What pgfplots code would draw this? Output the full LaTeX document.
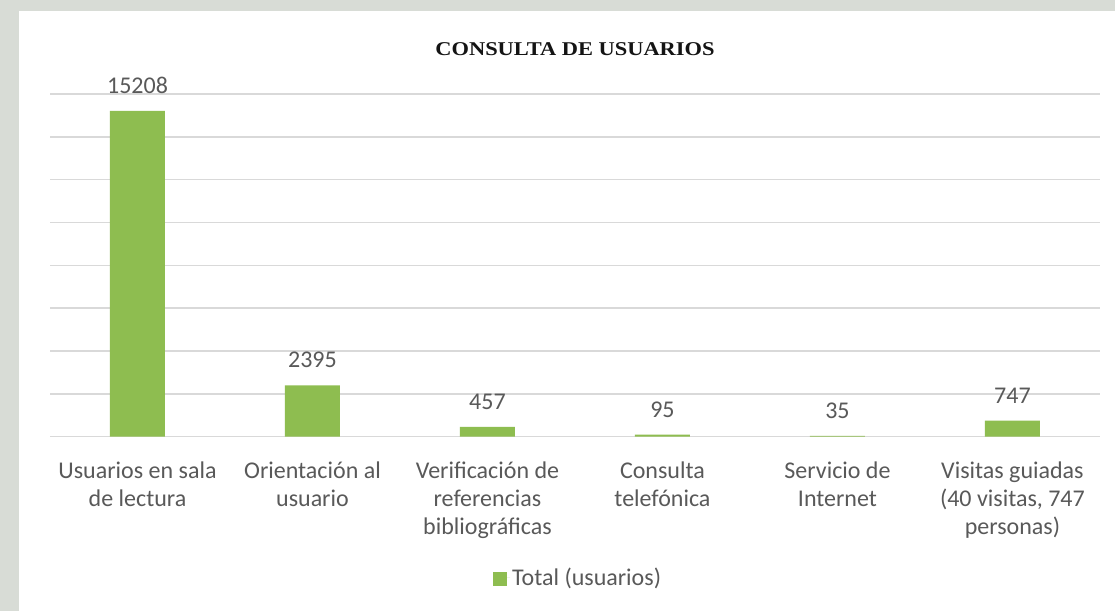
\documentclass[border=0pt]{standalone}
\usepackage{fontspec}
\setmainfont{Carlito}
\newfontfamily\titlefont[FakeStretch=1.15]{Liberation Serif}
\usepackage{pgfplots}
\pgfplotsset{compat=1.18}
\definecolor{barg}{RGB}{142,189,80}
\definecolor{txt}{RGB}{89,89,89}
\definecolor{gridc}{RGB}{217,217,217}
\definecolor{bgc}{RGB}{216,220,214}
\definecolor{titc}{RGB}{20,20,20}
\begin{document}
\begin{tikzpicture}
\fill[bgc] (0,0) rectangle (1115bp,-611bp);
\fill[white] (19bp,-11bp) rectangle (1115bp,-611bp);
\begin{axis}[
  at={(50bp,-436.7bp)}, anchor=south west,
  scale only axis, width=1050bp, height=342.7bp,
  xmin=-0.5, xmax=5.5, ymin=0, ymax=16000,
  ytick={0,2000,...,16000}, yticklabels={}, scaled y ticks=false,
  ymajorgrids, major grid style={gridc, line width=1.5bp},
  axis line style={draw=none}, tick style={draw=none},
  xtick={0,1,2,3,4,5},
  xticklabels={{Usuarios en sala\\de lectura},{Orientación al\\usuario},{Verificación de\\referencias\\bibliográficas},{Consulta\\telefónica},{Servicio de\\Internet},{Visitas guiadas\\(40 visitas, 747\\personas)}},
  xticklabel style={align=center, font=\fontsize{24bp}{28bp}\selectfont, text=txt, anchor=north, inner sep=0pt, yshift=-21bp},
  ybar, bar width=55bp,
  clip=false,
  nodes near coords, point meta=explicit symbolic,
  every node near coord/.append style={font=\fontsize{24bp}{28bp}\selectfont, text=txt, anchor=base, inner sep=0pt, yshift=17.5bp},
  legend style={at={(0.503,-0.41)}, anchor=center, draw=none, fill=none, font=\fontsize{24bp}{28bp}\selectfont, text=txt},
  legend image code/.code={\fill[barg] (0bp,-9bp) rectangle (14bp,5bp); \path (0bp,0bp) -- (17bp,0bp);},
]
\addplot[fill=barg, draw=none] coordinates {(0,15208) [15208] (1,2395) [2395] (2,457) [457] (3,95) [95] (4,35) [35] (5,747) [747]};
\addlegendentry{Total (usuarios)}
\end{axis}
\node[font=\titlefont\bfseries\fontsize{19.5bp}{23bp}\selectfont, text=titc, anchor=base] at (575bp,-55bp) {CONSULTA DE USUARIOS};
\pgfresetboundingbox
\path[use as bounding box] (0,0) rectangle (1115bp,-611bp);
\end{tikzpicture}
\end{document}
